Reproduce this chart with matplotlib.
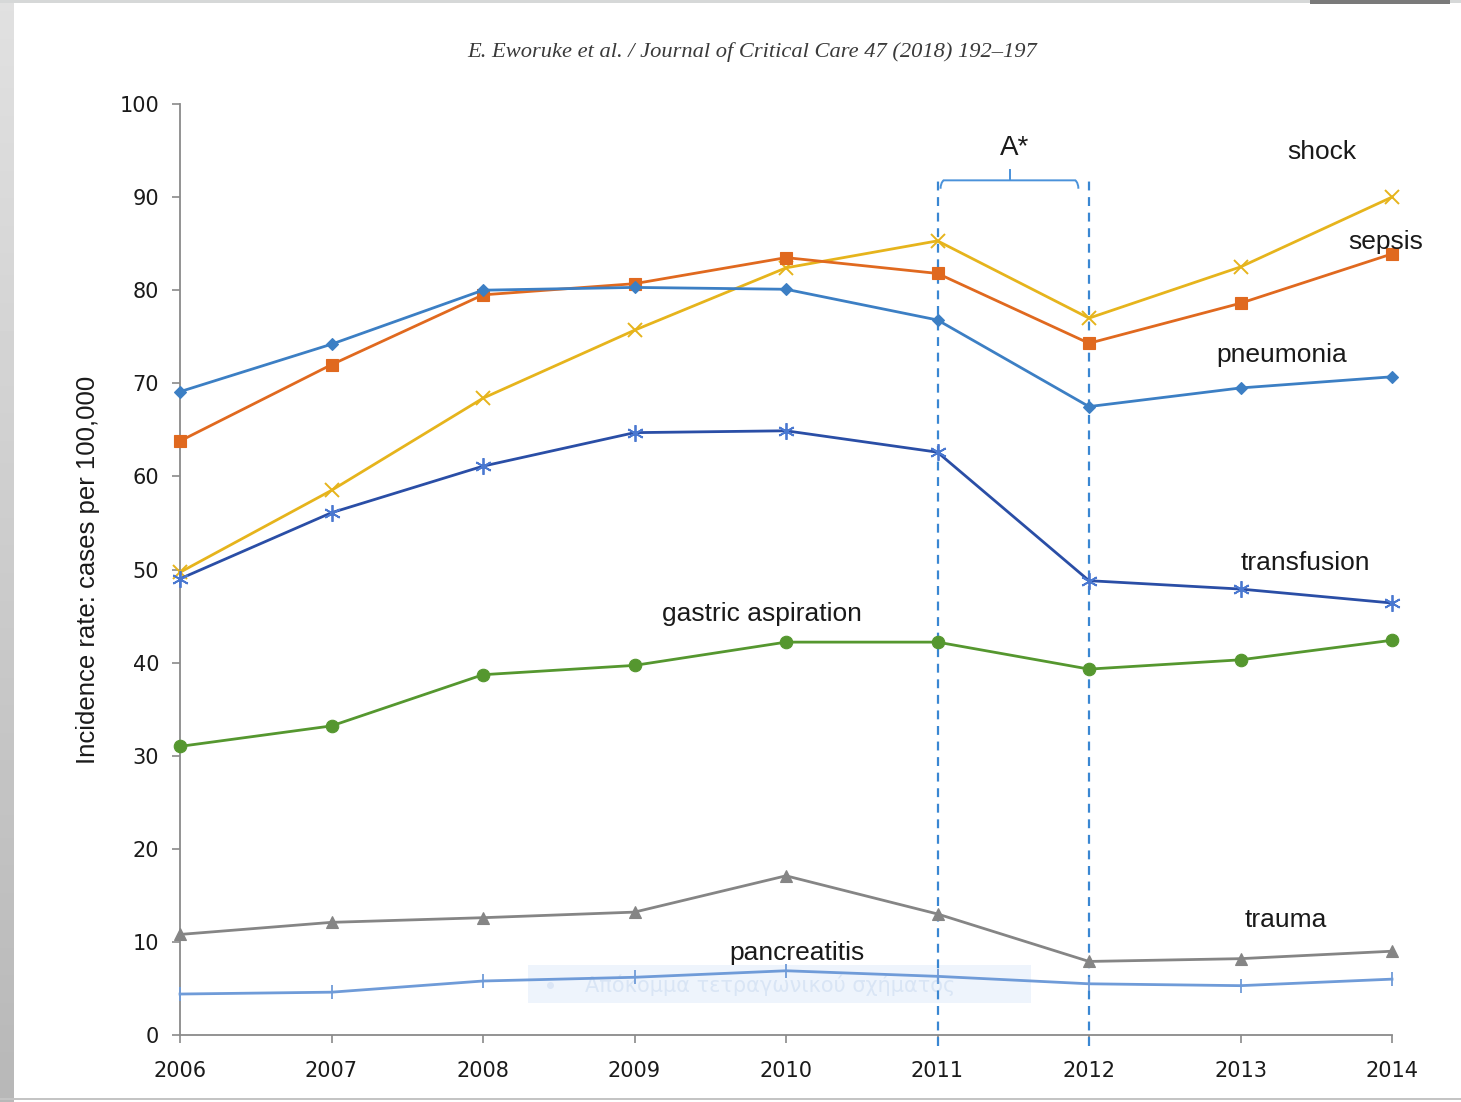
import numpy as np
import matplotlib
matplotlib.use("Agg")
import matplotlib.pyplot as plt
from matplotlib.patches import Rectangle
from matplotlib.path import Path
from matplotlib.patches import PathPatch

# Incidence rates (cases per 100,000) by year
years = [2006, 2007, 2008, 2009, 2010, 2011, 2012, 2013, 2014]
shock = [49.7, 58.5, 68.4, 75.7, 82.4, 85.3, 77.0, 82.5, 90.0]
sepsis = [63.8, 72.0, 79.5, 80.7, 83.5, 81.8, 74.3, 78.6, 83.9]
pneumonia = [69.1, 74.2, 80.0, 80.3, 80.1, 76.8, 67.5, 69.5, 70.7]
transfusion = [49.0, 56.1, 61.1, 64.7, 64.9, 62.6, 48.8, 47.9, 46.4]
gastric_aspiration = [31.0, 33.2, 38.7, 39.7, 42.2, 42.2, 39.3, 40.3, 42.4]
trauma = [10.8, 12.1, 12.6, 13.2, 17.1, 13.0, 7.9, 8.2, 9.0]
pancreatitis = [4.4, 4.6, 5.8, 6.2, 6.9, 6.3, 5.5, 5.3, 6.0]

series_names = ["shock", "sepsis", "pneumonia", "transfusion",
                "gastric aspiration", "trauma", "pancreatitis"]
period_bounds = [2011, 2012]
y_ticks = [0, 10, 20, 30, 40, 50, 60, 70, 80, 90, 100]

SANS = ["Liberation Sans", "DejaVu Sans"]

fig = plt.figure(figsize=(14.61, 11.02), dpi=100)
fig.patch.set_facecolor("white")

W, H = 1461, 1102
ax = fig.add_axes([180 / W, 67 / H, 1212 / W, 931 / H])
ax.set_xlim(2006, 2014)
ax.set_ylim(0, 100)

styles = [
    (shock, dict(color="#e6b41c", marker="x", ms=10, mew=1.4)),
    (sepsis, dict(color="#e0691f", marker="s", ms=9, mew=0.8)),
    (pneumonia, dict(color="#3c7fc4", marker="D", ms=6.5, mew=0.8)),
    (transfusion, dict(color="#2a4ea6", marker=(6, 2, 0), ms=12, mew=1.3,
                       mec="#4a78d0")),
    (gastric_aspiration, dict(color="#55972f", marker="o", ms=9, mew=0.8)),
    (trauma, dict(color="#858585", marker="^", ms=9, mew=0.8)),
    (pancreatitis, dict(color="#6f9bd8", marker="|", ms=10, mew=1.3)),
]
for vals, st in styles:
    ax.plot(years, vals, lw=2.0, clip_on=False, zorder=3, **st)

# Dashed boundaries of the highlighted period
for yr in period_bounds:
    ax.plot([yr, yr], [-1.2, 92.4], color="#3a87d2", lw=1.6,
            ls=(0, (4, 3)), clip_on=False, zorder=2)

# Bracket spanning the highlighted period
x0, x1 = period_bounds[0] + 0.02, period_bounds[1] - 0.07
yb, yd = 91.8, 90.9
xm = (period_bounds[0] + period_bounds[1]) / 2 - 0.02
verts = [(x0, yd), (x0, yb - 0.3), (x0 + 0.02, yb), (x1 - 0.02, yb),
         (x1, yb - 0.3), (x1, yd)]
codes = [Path.MOVETO, Path.CURVE3, Path.CURVE3, Path.LINETO,
         Path.CURVE3, Path.CURVE3]
ax.add_patch(PathPatch(Path(verts, codes), fill=False, ec="#4a92da",
                       lw=1.4, zorder=2))
ax.plot([xm, xm], [yb, 92.9], color="#4a92da", lw=1.4, zorder=2)
ax.text(xm + 0.03, 95.3, "A*", ha="center", va="center", fontsize=20,
        family=SANS, color="#1a1a1a")

# Faint clipping overlay behind the low series
ax.add_patch(Rectangle((2008.30, 3.4), 3.32, 4.1, fc="#eef4fc", ec="none",
                       zorder=0.5))
ax.plot([2008.44], [5.4], marker="o", ms=4, color="#dbe6f6", zorder=0.6)
ax.text(2008.67, 5.3, "Απόκομμα τετραγωνικού σχήματος", fontsize=15,
        color="#d9e5f5", va="center", ha="left", zorder=0.6,
        family=["DejaVu Sans"])

# Series labels
labels = [
    ("shock", 2013.54, 94.85),
    ("sepsis", 2013.96, 85.2),
    ("pneumonia", 2013.27, 73.0),
    ("transfusion", 2013.43, 50.7),
    ("gastric aspiration", 2009.84, 45.2),
    ("trauma", 2013.30, 12.35),
    ("pancreatitis", 2010.07, 8.8),
]
for name, lx, ly in labels:
    ax.text(lx, ly, name, ha="center", va="center", fontsize=19,
            family=SANS, color="#1a1a1a", zorder=4)

# Axes styling
for side in ("top", "right"):
    ax.spines[side].set_visible(False)
for side in ("left", "bottom"):
    ax.spines[side].set_color("#8a8a8a")
    ax.spines[side].set_linewidth(1.3)
ax.set_xticks(years)
ax.set_xticklabels([str(y) for y in years])
ax.set_yticks(y_ticks)
ax.tick_params(axis="both", colors="#8a8a8a", labelcolor="#1a1a1a",
               labelsize=15, width=1.2, length=6, direction="out")
ax.tick_params(axis="y", pad=9)
ax.tick_params(axis="x", pad=13)
ax.set_ylabel("Incidence rate: cases per 100,000", fontsize=18.5,
              family=SANS, color="#1a1a1a", labelpad=14)

# Journal header
fig.text(752 / W, 1 - 52 / H,
         "E. Eworuke et al. / Journal of Critical Care 47 (2018) 192–197",
         ha="center", va="center", fontsize=16.2, style="italic",
         family=["Liberation Serif", "DejaVu Serif"], color="#3a3a3a")

# Page frame: left shaded strip, top and bottom rules
strip = fig.add_axes([0, 0, 13 / W, 1])
grad = np.linspace(0.88, 0.72, 200).reshape(-1, 1)
strip.imshow(grad, aspect="auto", cmap="gray", vmin=0, vmax=1,
             extent=[0, 1, 0, 1])
strip.set_axis_off()
fig.add_artist(Rectangle((0, 1 - 3 / H), 1, 3 / H, transform=fig.transFigure,
                         fc="#d6d8d8", ec="none"))
fig.add_artist(Rectangle((1310 / W, 1 - 4 / H), 140 / W, 4 / H,
                         transform=fig.transFigure, fc="#7a7a7a", ec="none"))
fig.add_artist(Rectangle((0, 2 / H), 1, 2 / H, transform=fig.transFigure,
                         fc="#c4c4c4", ec="none"))

fig.savefig("out.png", dpi=100, facecolor="white")
